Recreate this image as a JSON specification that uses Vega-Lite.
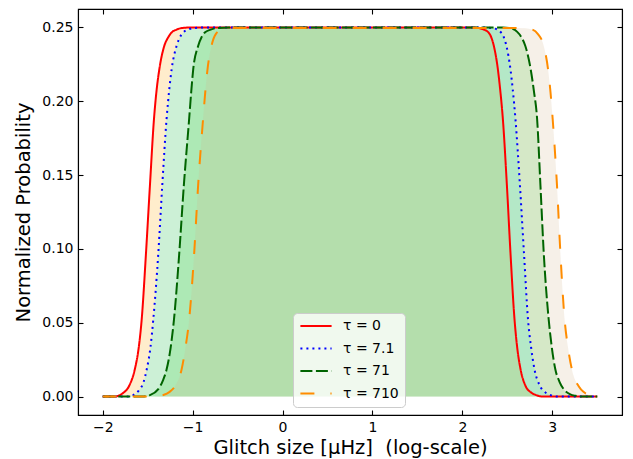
{
  "$schema": "https://vega.github.io/schema/vega-lite/v6.json",
  "width": 544,
  "height": 406,
  "autosize": "none",
  "padding": {"left": 78, "top": 9, "right": 11, "bottom": 44},
  "config": {
    "font": "DejaVu Sans",
    "view": {"stroke": "black", "strokeWidth": 1.1},
    "axis": {
      "grid": false,
      "domainColor": "black",
      "domainWidth": 1.1,
      "tickColor": "black",
      "tickWidth": 1.1,
      "tickSize": -5,
      "labelPadding": 10,
      "labelColor": "black",
      "titleColor": "black",
      "labelFont": "DejaVu Sans",
      "titleFont": "DejaVu Sans",
      "labelFontSize": 14,
      "titleFontSize": 19.5,
      "titleFontWeight": "normal"
    }
  },
  "resolve": {"axis": {"x": "independent", "y": "independent"}},
  "data": {
    "values": [
      {"s": "τ = 0", "x": -2, "y": 0}, {"s": "τ = 0", "x": -1.87, "y": 0}, {"s": "τ = 0", "x": -1.81, "y": 0.001}, {"s": "τ = 0", "x": -1.771, "y": 0.0025}, {"s": "τ = 0", "x": -1.704, "y": 0.0075}, {"s": "τ = 0", "x": -1.641, "y": 0.019}, {"s": "τ = 0", "x": -1.6, "y": 0.033}, {"s": "τ = 0", "x": -1.567, "y": 0.052}, {"s": "τ = 0", "x": -1.519, "y": 0.097}, {"s": "τ = 0", "x": -1.475, "y": 0.143}, {"s": "τ = 0", "x": -1.43, "y": 0.188}, {"s": "τ = 0", "x": -1.4, "y": 0.208}, {"s": "τ = 0", "x": -1.371, "y": 0.2215}, {"s": "τ = 0", "x": -1.316, "y": 0.2374}, {"s": "τ = 0", "x": -1.27, "y": 0.2435}, {"s": "τ = 0", "x": -1.234, "y": 0.2466}, {"s": "τ = 0", "x": -1.18, "y": 0.2485}, {"s": "τ = 0", "x": -1.123, "y": 0.2496}, {"s": "τ = 0", "x": -1.0, "y": 0.25}, {"s": "τ = 0", "x": 0, "y": 0.25}, {"s": "τ = 0", "x": 1, "y": 0.25}, {"s": "τ = 0", "x": 2.1, "y": 0.25}, {"s": "τ = 0", "x": 2.18, "y": 0.2496}, {"s": "τ = 0", "x": 2.24, "y": 0.2485}, {"s": "τ = 0", "x": 2.29, "y": 0.2466}, {"s": "τ = 0", "x": 2.32, "y": 0.2435}, {"s": "τ = 0", "x": 2.35, "y": 0.2374}, {"s": "τ = 0", "x": 2.395, "y": 0.2215}, {"s": "τ = 0", "x": 2.42, "y": 0.208}, {"s": "τ = 0", "x": 2.45, "y": 0.188}, {"s": "τ = 0", "x": 2.495, "y": 0.143}, {"s": "τ = 0", "x": 2.535, "y": 0.097}, {"s": "τ = 0", "x": 2.58, "y": 0.052}, {"s": "τ = 0", "x": 2.61, "y": 0.033}, {"s": "τ = 0", "x": 2.645, "y": 0.019}, {"s": "τ = 0", "x": 2.7, "y": 0.0075}, {"s": "τ = 0", "x": 2.77, "y": 0.0025}, {"s": "τ = 0", "x": 2.82, "y": 0.001}, {"s": "τ = 0", "x": 2.89, "y": 0}, {"s": "τ = 0", "x": 3.5, "y": 0},

      {"s": "τ = 7.1", "x": -2, "y": 0}, {"s": "τ = 7.1", "x": -1.72, "y": 0}, {"s": "τ = 7.1", "x": -1.66, "y": 0.001}, {"s": "τ = 7.1", "x": -1.6, "y": 0.004}, {"s": "τ = 7.1", "x": -1.545, "y": 0.01}, {"s": "τ = 7.1", "x": -1.511, "y": 0.0183}, {"s": "τ = 7.1", "x": -1.47, "y": 0.033}, {"s": "τ = 7.1", "x": -1.438, "y": 0.052}, {"s": "τ = 7.1", "x": -1.382, "y": 0.097}, {"s": "τ = 7.1", "x": -1.338, "y": 0.143}, {"s": "τ = 7.1", "x": -1.29, "y": 0.188}, {"s": "τ = 7.1", "x": -1.26, "y": 0.208}, {"s": "τ = 7.1", "x": -1.234, "y": 0.2215}, {"s": "τ = 7.1", "x": -1.179, "y": 0.2374}, {"s": "τ = 7.1", "x": -1.14, "y": 0.2435}, {"s": "τ = 7.1", "x": -1.105, "y": 0.2466}, {"s": "τ = 7.1", "x": -1.05, "y": 0.2485}, {"s": "τ = 7.1", "x": -0.994, "y": 0.2496}, {"s": "τ = 7.1", "x": -0.85, "y": 0.25}, {"s": "τ = 7.1", "x": 0, "y": 0.25}, {"s": "τ = 7.1", "x": 1, "y": 0.25}, {"s": "τ = 7.1", "x": 2.25, "y": 0.25}, {"s": "τ = 7.1", "x": 2.33, "y": 0.2496}, {"s": "τ = 7.1", "x": 2.39, "y": 0.2485}, {"s": "τ = 7.1", "x": 2.43, "y": 0.2466}, {"s": "τ = 7.1", "x": 2.46, "y": 0.2435}, {"s": "τ = 7.1", "x": 2.49, "y": 0.2374}, {"s": "τ = 7.1", "x": 2.535, "y": 0.2215}, {"s": "τ = 7.1", "x": 2.56, "y": 0.208}, {"s": "τ = 7.1", "x": 2.59, "y": 0.188}, {"s": "τ = 7.1", "x": 2.64, "y": 0.143}, {"s": "τ = 7.1", "x": 2.685, "y": 0.097}, {"s": "τ = 7.1", "x": 2.73, "y": 0.052}, {"s": "τ = 7.1", "x": 2.765, "y": 0.033}, {"s": "τ = 7.1", "x": 2.8, "y": 0.019}, {"s": "τ = 7.1", "x": 2.86, "y": 0.0075}, {"s": "τ = 7.1", "x": 2.93, "y": 0.0025}, {"s": "τ = 7.1", "x": 2.98, "y": 0.001}, {"s": "τ = 7.1", "x": 3.05, "y": 0}, {"s": "τ = 7.1", "x": 3.5, "y": 0},

      {"s": "τ = 71", "x": -2, "y": 0}, {"s": "τ = 71", "x": -1.56, "y": 0}, {"s": "τ = 71", "x": -1.475, "y": 0.001}, {"s": "τ = 71", "x": -1.382, "y": 0.005}, {"s": "τ = 71", "x": -1.33, "y": 0.011}, {"s": "τ = 71", "x": -1.29, "y": 0.0183}, {"s": "τ = 71", "x": -1.245, "y": 0.033}, {"s": "τ = 71", "x": -1.208, "y": 0.052}, {"s": "τ = 71", "x": -1.149, "y": 0.097}, {"s": "τ = 71", "x": -1.098, "y": 0.143}, {"s": "τ = 71", "x": -1.039, "y": 0.188}, {"s": "τ = 71", "x": -1.015, "y": 0.207}, {"s": "τ = 71", "x": -0.994, "y": 0.2215}, {"s": "τ = 71", "x": -0.939, "y": 0.2374}, {"s": "τ = 71", "x": -0.9, "y": 0.2435}, {"s": "τ = 71", "x": -0.865, "y": 0.2466}, {"s": "τ = 71", "x": -0.8, "y": 0.2485}, {"s": "τ = 71", "x": -0.735, "y": 0.2496}, {"s": "τ = 71", "x": -0.6, "y": 0.25}, {"s": "τ = 71", "x": 0.5, "y": 0.25}, {"s": "τ = 71", "x": 1.5, "y": 0.25}, {"s": "τ = 71", "x": 2.45, "y": 0.25}, {"s": "τ = 71", "x": 2.55, "y": 0.2492}, {"s": "τ = 71", "x": 2.61, "y": 0.247}, {"s": "τ = 71", "x": 2.66, "y": 0.243}, {"s": "τ = 71", "x": 2.7, "y": 0.2374}, {"s": "τ = 71", "x": 2.76, "y": 0.2215}, {"s": "τ = 71", "x": 2.795, "y": 0.207}, {"s": "τ = 71", "x": 2.831, "y": 0.188}, {"s": "τ = 71", "x": 2.868, "y": 0.143}, {"s": "τ = 71", "x": 2.905, "y": 0.097}, {"s": "τ = 71", "x": 2.96, "y": 0.052}, {"s": "τ = 71", "x": 2.995, "y": 0.033}, {"s": "τ = 71", "x": 3.034, "y": 0.0183}, {"s": "τ = 71", "x": 3.08, "y": 0.01}, {"s": "τ = 71", "x": 3.126, "y": 0.005}, {"s": "τ = 71", "x": 3.2, "y": 0.0015}, {"s": "τ = 71", "x": 3.26, "y": 0.0005}, {"s": "τ = 71", "x": 3.33, "y": 0}, {"s": "τ = 71", "x": 3.5, "y": 0},

      {"s": "τ = 710", "x": -2, "y": 0}, {"s": "τ = 710", "x": -1.42, "y": 0}, {"s": "τ = 710", "x": -1.327, "y": 0.001}, {"s": "τ = 710", "x": -1.26, "y": 0.003}, {"s": "τ = 710", "x": -1.197, "y": 0.007}, {"s": "τ = 710", "x": -1.123, "y": 0.0183}, {"s": "τ = 710", "x": -1.08, "y": 0.033}, {"s": "τ = 710", "x": -1.039, "y": 0.052}, {"s": "τ = 710", "x": -0.983, "y": 0.097}, {"s": "τ = 710", "x": -0.939, "y": 0.143}, {"s": "τ = 710", "x": -0.884, "y": 0.188}, {"s": "τ = 710", "x": -0.86, "y": 0.206}, {"s": "τ = 710", "x": -0.835, "y": 0.2215}, {"s": "τ = 710", "x": -0.791, "y": 0.2374}, {"s": "τ = 710", "x": -0.743, "y": 0.2455}, {"s": "τ = 710", "x": -0.68, "y": 0.2483}, {"s": "τ = 710", "x": -0.624, "y": 0.2492}, {"s": "τ = 710", "x": -0.48, "y": 0.2497}, {"s": "τ = 710", "x": 0.5, "y": 0.2497}, {"s": "τ = 710", "x": 1.5, "y": 0.2497}, {"s": "τ = 710", "x": 2.55, "y": 0.2497}, {"s": "τ = 710", "x": 2.7, "y": 0.2494}, {"s": "τ = 710", "x": 2.78, "y": 0.2485}, {"s": "τ = 710", "x": 2.84, "y": 0.2455}, {"s": "τ = 710", "x": 2.905, "y": 0.2374}, {"s": "τ = 710", "x": 2.953, "y": 0.2215}, {"s": "τ = 710", "x": 2.98, "y": 0.206}, {"s": "τ = 710", "x": 3.004, "y": 0.188}, {"s": "τ = 710", "x": 3.052, "y": 0.143}, {"s": "τ = 710", "x": 3.09, "y": 0.097}, {"s": "τ = 710", "x": 3.137, "y": 0.052}, {"s": "τ = 710", "x": 3.175, "y": 0.033}, {"s": "τ = 710", "x": 3.218, "y": 0.0183}, {"s": "τ = 710", "x": 3.293, "y": 0.007}, {"s": "τ = 710", "x": 3.35, "y": 0.003}, {"s": "τ = 710", "x": 3.404, "y": 0.001}, {"s": "τ = 710", "x": 3.46, "y": 0}, {"s": "τ = 710", "x": 3.5, "y": 0}
    ]
  },
  "layer": [
    {
      "transform": [{"filter": "datum.s === 'τ = 0'"}],
      "mark": {"type": "area", "interpolate": "monotone", "color": "#ffa500", "fillOpacity": 0.2},
      "encoding": {
        "x": {"field": "x", "type": "quantitative", "scale": {"domain": [-2.275, 3.775], "nice": false, "zero": false},
              "axis": {"orient": "bottom", "values": [-2, -1, 0, 1, 2, 3], "format": "d", "title": "Glitch size [μHz]\u00a0 (log-scale)", "titlePadding": 4}},
        "y": {"field": "y", "type": "quantitative", "scale": {"domain": [-0.0125, 0.2625], "nice": false, "zero": false},
              "axis": {"orient": "left", "values": [0, 0.05, 0.1, 0.15, 0.2, 0.25], "format": ".2f", "title": "Normalized Probability", "titlePadding": 8}},
        "y2": {"datum": 0}
      }
    },
    {
      "transform": [{"filter": "datum.s === 'τ = 7.1'"}],
      "mark": {"type": "area", "interpolate": "monotone", "color": "#00ffff", "fillOpacity": 0.2},
      "encoding": {
        "x": {"field": "x", "type": "quantitative", "axis": null},
        "y": {"field": "y", "type": "quantitative", "axis": null},
        "y2": {"datum": 0}
      }
    },
    {
      "transform": [{"filter": "datum.s === 'τ = 71'"}],
      "mark": {"type": "area", "interpolate": "monotone", "color": "#32cd32", "fillOpacity": 0.2},
      "encoding": {
        "x": {"field": "x", "type": "quantitative", "axis": null},
        "y": {"field": "y", "type": "quantitative", "axis": null},
        "y2": {"datum": 0}
      }
    },
    {
      "transform": [{"filter": "datum.s === 'τ = 710'"}],
      "mark": {"type": "area", "interpolate": "monotone", "color": "#d2b48c", "fillOpacity": 0.2},
      "encoding": {
        "x": {"field": "x", "type": "quantitative", "axis": null},
        "y": {"field": "y", "type": "quantitative", "axis": null},
        "y2": {"datum": 0}
      }
    },
    {
      "mark": {"type": "line", "interpolate": "monotone", "strokeWidth": 2},
      "encoding": {
        "x": {"field": "x", "type": "quantitative", "axis": null},
        "y": {"field": "y", "type": "quantitative", "axis": null},
        "color": {
          "field": "s", "type": "nominal",
          "scale": {"domain": ["τ = 0", "τ = 7.1", "τ = 71", "τ = 710"], "range": ["#ff0000", "#0000ff", "#006400", "#ff8c00"]},
          "legend": {"title": null, "orient": "none", "legendX": 215, "legendY": 304, "symbolType": "M-2.6,0H2.6", "symbolSize": 144, "symbolOffset": 10, "symbolStrokeWidth": 2, "labelFontSize": 14, "labelFont": "DejaVu Sans", "labelColor": "black", "rowPadding": 8.5, "padding": 6, "labelOffset": 20, "fillColor": "rgba(255,255,255,0.8)", "strokeColor": "#cccccc", "cornerRadius": 4}
        },
        "strokeDash": {
          "field": "s", "type": "nominal",
          "scale": {"domain": ["τ = 0", "τ = 7.1", "τ = 71", "τ = 710"], "range": [[1, 0], [2, 4], [12, 3.5], [14, 16]]},
          "legend": {"title": null, "orient": "none", "legendX": 215, "legendY": 304, "symbolType": "M-2.6,0H2.6", "symbolSize": 144, "symbolOffset": 10, "symbolStrokeWidth": 2, "labelFontSize": 14, "labelFont": "DejaVu Sans", "labelColor": "black", "rowPadding": 8.5, "padding": 6, "labelOffset": 20, "fillColor": "rgba(255,255,255,0.8)", "strokeColor": "#cccccc", "cornerRadius": 4}
        }
      }
    },
    {
      "mark": {"type": "point", "opacity": 0},
      "encoding": {
        "x": {"field": "x", "type": "quantitative", "axis": {"orient": "top", "values": [-2, -1, 0, 1, 2, 3], "labels": false, "title": null}},
        "y": {"field": "y", "type": "quantitative", "axis": {"orient": "right", "values": [0, 0.05, 0.1, 0.15, 0.2, 0.25], "labels": false, "title": null}}
      }
    }
  ]
}
